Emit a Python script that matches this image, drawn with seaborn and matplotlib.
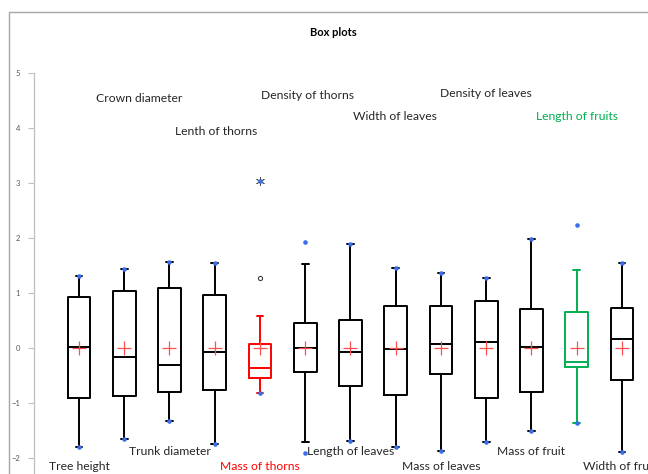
import numpy as np
import pandas as pd
import matplotlib
matplotlib.use("Agg")
import matplotlib.pyplot as plt
import seaborn as sns
from matplotlib.patches import Rectangle

# box plot summary values
labels = ["Tree height", "Crown diameter", "Trunk diameter", "Lenth of thorns",
          "Mass of thorns", "Density of thorns", "Length of leaves", "Width of leaves",
          "Mass of leaves", "Density of leaves", "Mass of fruit", "Length of fruits",
          "Width of fruits"]
whisk_lo = [-1.81, -1.66, -1.33, -1.75, -0.82, -1.71, -1.69, -1.81, -1.87, -1.71, -1.52, -1.36, -1.89]
q1 = [-0.92, -0.87, -0.81, -0.76, -0.55, -0.44, -0.69, -0.86, -0.47, -0.92, -0.81, -0.35, -0.59]
med = [0.02, -0.17, -0.32, -0.08, -0.36, 0.00, -0.08, -0.02, 0.07, 0.10, 0.01, -0.26, 0.16]
q3 = [0.92, 1.04, 1.10, 0.96, 0.07, 0.46, 0.50, 0.77, 0.77, 0.86, 0.71, 0.66, 0.73]
whisk_hi = [1.31, 1.44, 1.56, 1.54, 0.59, 1.53, 1.89, 1.46, 1.36, 1.28, 1.99, 1.42, 1.54]
v_min = [-1.81, -1.66, -1.33, -1.75, -0.82, -1.92, -1.69, -1.81, -1.87, -1.71, -1.52, -1.36, -1.89]
v_max = [1.31, 1.44, 1.56, 1.54, 3.04, 1.93, 1.89, 1.46, 1.36, 1.28, 1.99, 2.24, 1.54]
means = [0, 0, 0, 0, 0, 0, 0, 0, 0, 0, 0, 0, 0]
outlier_cat = ["Mass of thorns"]
outlier_val = [1.27]
extreme_cat = ["Mass of thorns"]
extreme_val = [3.04]

# label placement (x index, y value)
top_idx = [1, 3, 5, 7, 9, 11]
top_x = [1.33, 3.03, 5.04, 6.98, 8.99, 11.0]
top_y = [4.55, 3.95, 4.59, 4.21, 4.63, 4.21]
bot_idx = [0, 2, 4, 6, 8, 10, 12]
bot_y = [-2.16, -1.88, -2.16, -1.88, -2.16, -1.88, -2.16]

RED = "#ff0000"
GREEN = "#00b050"
BLUE = "#3a6ee8"
colors = {l: "black" for l in labels}
colors["Mass of thorns"] = RED
colors["Length of fruits"] = GREEN
txt_colors = {l: "#262626" for l in labels}
txt_colors["Mass of thorns"] = RED
txt_colors["Length of fruits"] = GREEN

rows = []
for i, l in enumerate(labels):
    for v in (whisk_lo[i], q1[i], med[i], q3[i], whisk_hi[i]):
        rows.append((l, v))
df = pd.DataFrame(rows, columns=["var", "value"])

sns.set_style("white")
plt.rcParams['font.family'] = ['Lato', 'DejaVu Sans']

fig = plt.figure(figsize=(6.48, 4.74), dpi=100)
ax = fig.add_axes([34 / 648, 0, (648 - 34) / 648, (474 - 73.45) / 474])

sns.boxplot(data=df, x="var", y="value", hue="var", order=labels, hue_order=labels,
            palette=colors, fill=False, width=0.5, whis=(0, 100), linewidth=1.4,
            showfliers=False, legend=False, ax=ax, capwidths=0.15)

sns.stripplot(x=extreme_cat, y=extreme_val, order=labels, jitter=False,
              marker=(6, 2, 0), color="#505050", linewidth=0.6, size=6, ax=ax, zorder=4)
sns.stripplot(x=labels + labels, y=v_min + v_max, order=labels, jitter=False,
              color=BLUE, size=3.3, linewidth=0, ax=ax, zorder=5)
sns.stripplot(x=outlier_cat, y=outlier_val, order=labels, jitter=False, color="white",
              edgecolor="#404040", linewidth=0.8, size=3, ax=ax, zorder=5)
sns.stripplot(x=labels, y=means, order=labels, jitter=False, marker="+",
              color="#ff5050", linewidth=0.9, size=10, ax=ax, zorder=6)

ax.set_xlim(-0.994, 12.575)
ax.set_ylim(-2.297, 5)
ax.set_yticks(range(-2, 6))
ax.set_xticks([])
ax.set_xlabel("")
ax.set_ylabel("")
for s in ("top", "right", "bottom"):
    ax.spines[s].set_visible(False)
ax.spines["left"].set_color("#bfbfbf")
ax.spines["left"].set_linewidth(0.9)
ax.tick_params(axis="y", left=True, length=4, width=0.8, color="#bfbfbf",
               labelsize=5.5, labelcolor="#595959", pad=6)

for i, x, y in zip(top_idx, top_x, top_y):
    ax.text(x, y, labels[i], ha="center", va="center", fontsize=8.7,
            color=txt_colors[labels[i]], clip_on=False)
for i, y in zip(bot_idx, bot_y):
    ax.text(i, y, labels[i], ha="center", va="center", fontsize=8.7,
            color=txt_colors[labels[i]], clip_on=False)

fig.text(333 / 648, 1 - 33 / 474, "Box plots", ha="center", va="center",
         fontsize=8, fontweight="bold", color="black")
fig.patches.append(Rectangle((9 / 648, -0.1), 2, 1 - 12 / 474 + 0.1,
                             transform=fig.transFigure, fill=False,
                             edgecolor="#a6a6a6", linewidth=1.0))

fig.savefig("out.png", dpi=100)
